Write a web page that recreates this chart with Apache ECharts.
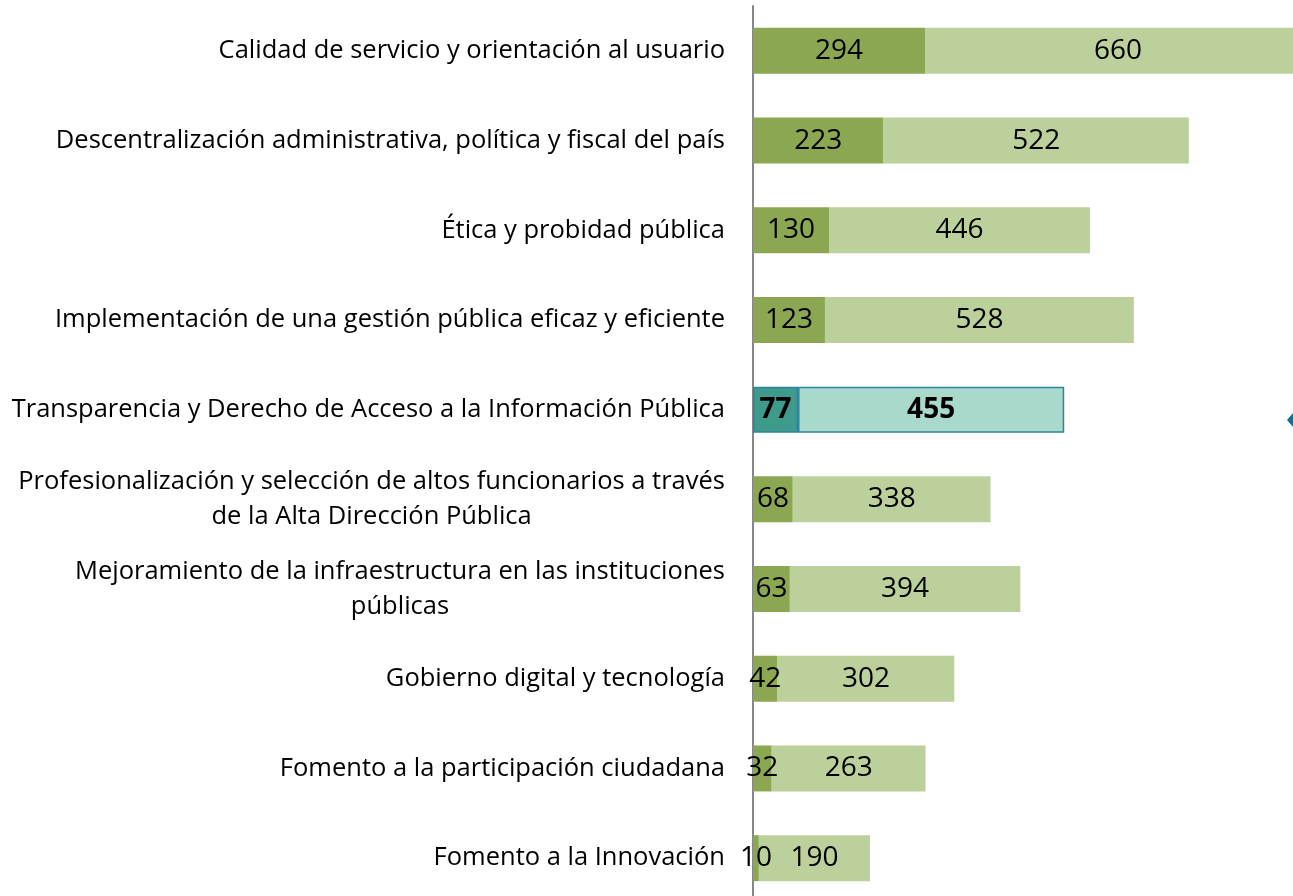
<!DOCTYPE html>
<html>
<head>
<meta charset="utf-8">
<script src="https://cdn.jsdelivr.net/npm/echarts@6/dist/echarts.min.js"></script>
<style>
    html, body { margin: 0; padding: 0; background: #fff; }
    #main { width: 1293px; height: 896px; }
</style>
</head>
<body>
<div id="main"></div>
<script>
var categories = [
    'Calidad de servicio y orientación al usuario',
    'Descentralización administrativa, política y fiscal del país',
    'Ética y probidad pública',
    'Implementación de una gestión pública eficaz y eficiente',
    'Transparencia y Derecho de Acceso a la Información Pública',
    'Profesionalización y selección de altos funcionarios a través\nde la Alta Dirección Pública',
    'Mejoramiento de la infraestructura en las instituciones\npúblicas',
    'Gobierno digital y tecnología',
    'Fomento a la participación ciudadana',
    'Fomento a la Innovación'
];
var darkValues = [294, 223, 130, 123, 77, 68, 63, 42, 32, 10];
var lightValues = [660, 522, 446, 528, 455, 338, 394, 302, 263, 190];
var highlightIndex = 4;

var chart = echarts.init(document.getElementById('main'));

function buildData(values, color, hiColor) {
    return values.map(function (v, i) {
        if (i === highlightIndex) {
            return {
                value: v,
                itemStyle: { color: hiColor, borderColor: '#2a86a0', borderWidth: 1.5 },
                label: { fontWeight: 'bold' }
            };
        }
        return { value: v, itemStyle: { color: color } };
    });
}

var option = {
    animation: false,
    grid: { left: 753, right: -45, top: 6, bottom: -7, outerBoundsMode: 'none' },
    xAxis: {
        type: 'value',
        min: 0,
        max: 1000,
        show: false
    },
    yAxis: {
        type: 'category',
        inverse: true,
        data: categories,
        axisLine: { show: true, lineStyle: { color: '#878787', width: 2 } },
        axisTick: { show: false },
        axisLabel: {
            margin: 28,
            color: '#000',
            fontFamily: 'Open Sans',
            fontSize: 25.5,
            lineHeight: 35,
            formatter: function (value) {
                return value.split('\n').map(function (l) {
                    return '{c|' + l + '}';
                }).join('\n');
            },
            rich: {
                c: { align: 'center', fontFamily: 'Open Sans', fontSize: 25.5, lineHeight: 35, color: '#000' }
            }
        }
    },
    series: [
        {
            type: 'bar',
            stack: 'total',
            barWidth: 46,
            data: buildData(darkValues, '#8ba752', '#3e9a8b'),
            label: { show: true, position: 'inside', color: '#000', fontFamily: 'Open Sans', fontSize: 28 }
        },
        {
            type: 'bar',
            stack: 'total',
            barWidth: 46,
            data: buildData(lightValues, '#bbd09a', '#a9d8cc'),
            label: { show: true, position: 'inside', color: '#000', fontFamily: 'Open Sans', fontSize: 28 }
        }
    ],
    graphic: [
        {
            type: 'polygon',
            shape: { points: [[1287, 420], [1293, 413], [1299, 420], [1293, 427]] },
            style: { fill: '#1a6e8a' }
        }
    ]
};

chart.setOption(option);
</script>
</body>
</html>
